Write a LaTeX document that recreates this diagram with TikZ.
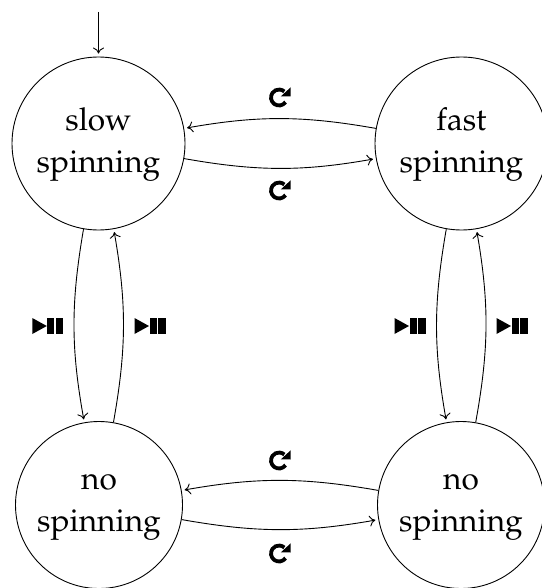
\documentclass[tikz,border=0pt]{standalone}
\usepackage[T1]{fontenc}
\usepackage{mathpazo}
\usetikzlibrary{arrows.meta}
\newcommand{\lowerstrut}{\rule{0pt}{25.5pt}}
\newcommand{\lowerstrutno}{\rule{0pt}{19pt}}
\tikzset{
  stateb/.style={circle,draw,line width=0.9pt,minimum size=173,inner sep=0pt,align=center,font=\fontsize{31.6}{42}\selectfont},
  stateno/.style={stateb,minimum size=167},
  arr/.style={-{Computer Modern Rightarrow[length=6pt,width=11pt]},line width=0.9pt,shorten >=3pt},
  pics/replay/.style={code={
    \draw[line width=3.8pt] (-1,0.5) ++(35:8) arc[start angle=35,end angle=312,radius=8];
    \fill (10.7,-9.7) -- (10.7,-0.5) -- (0.9,-0.7) -- cycle;
  }},
  pics/playpause/.style={code={
    \fill (-15.5,-8) -- (-1,0) -- (-15.5,8) -- cycle;
    \fill (-0.5,-8) rectangle (6.5,8);
    \fill (8.2,-8) rectangle (15.5,8);
  }}
}
\begin{document}
\begin{tikzpicture}[x=1pt,y=-1pt]
\useasboundingbox (0,0) rectangle (541,588);
\node[stateb] (s) at (98.5,143.5) {\lowerstrut slow\\spinning};
\node[stateb] (f) at (461.5,143.5) {\lowerstrut fast\\spinning};
\node[stateno] (n) at (99,505) {\lowerstrutno no\\spinning};
\node[stateno] (m) at (461,505) {\lowerstrutno no\\spinning};
\coordinate (st) at (98.5,12);
\draw[arr] (st) -- (s);
\draw[arr] (f) to[bend right=10] (s);
\draw[arr] (s) to[bend right=10] (f);
\draw[arr] (m) to[bend right=10] (n);
\draw[arr] (n) to[bend right=10] (m);
\draw[arr] (s) to[bend right=10] (n);
\draw[arr] (n) to[bend right=10] (s);
\draw[arr] (f) to[bend right=10] (m);
\draw[arr] (m) to[bend right=10] (f);
\path (280,97) pic {replay} (280,190) pic {replay} (280,460) pic {replay} (280,553) pic {replay};
\path (47.8,326) pic {playpause} (150,326) pic {playpause} (410,326) pic {playpause} (512,326) pic {playpause};
\end{tikzpicture}
\end{document}
